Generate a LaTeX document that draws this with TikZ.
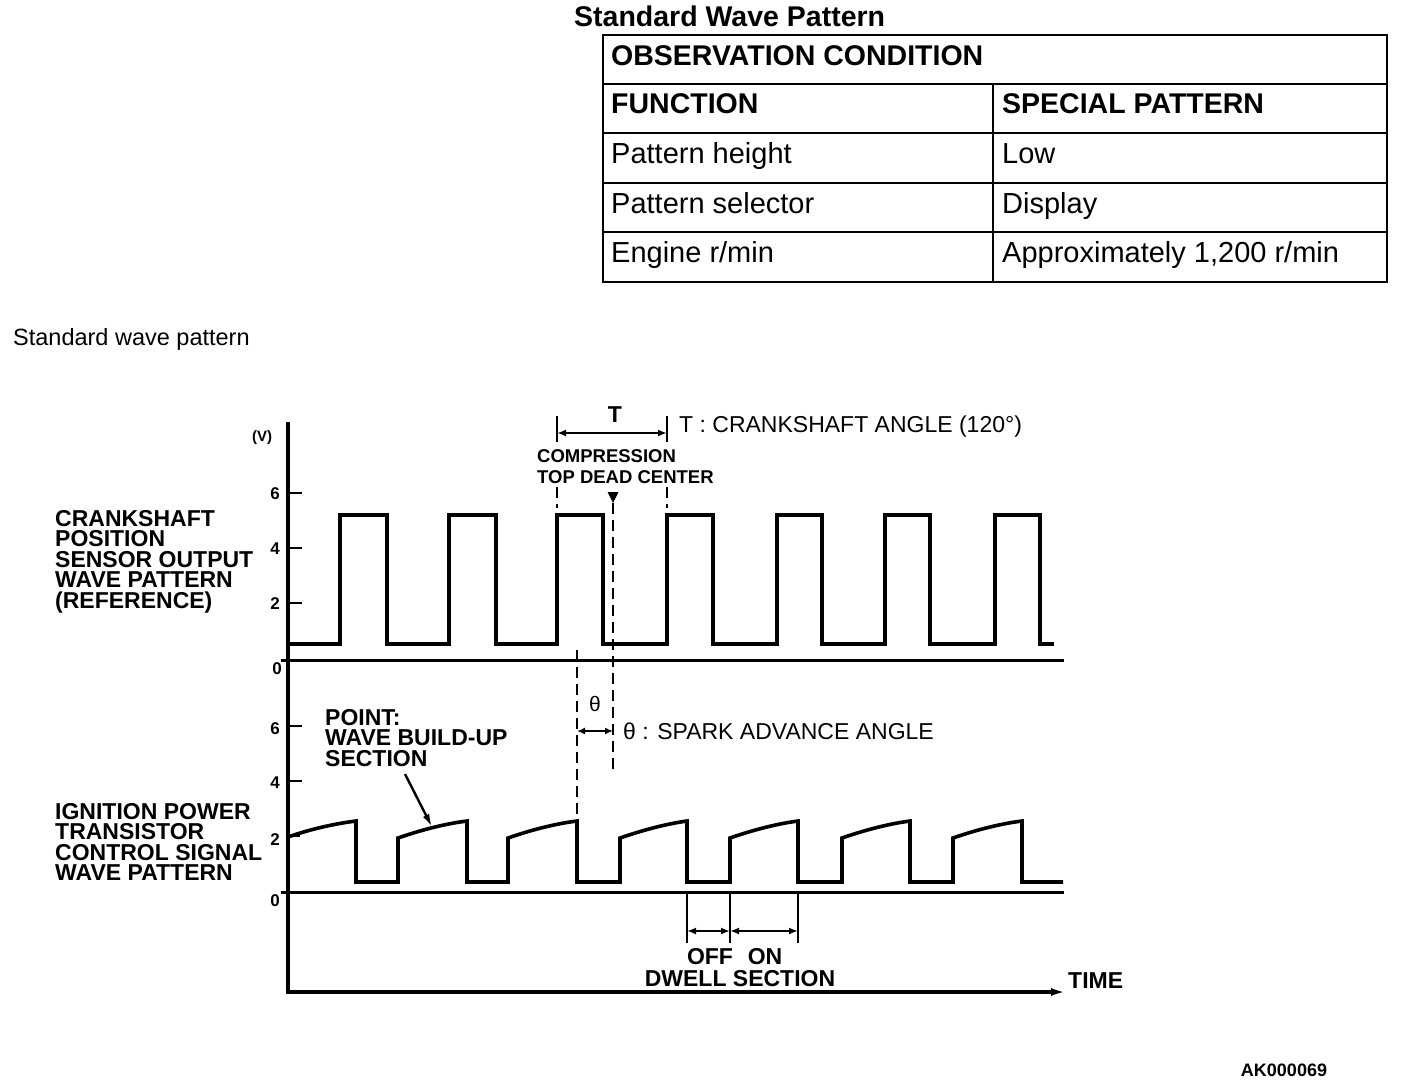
\documentclass[tikz,border=0pt]{standalone}
\usepackage{fontspec}
\setmainfont{Liberation Sans}
\usetikzlibrary{arrows.meta}
\begin{document}
\begin{tikzpicture}[x=1pt,y=-1pt,
  wave/.style={line width=3.6pt, line join=miter},
  axisln/.style={line width=3.2pt},
  baseln/.style={line width=3pt},
  tickln/.style={line width=2.8pt},
  dashln/.style={line width=2.6pt, dash pattern=on 11pt off 6pt},
  dimln/.style={line width=2.2pt, {Latex[length=9pt,width=7pt]}-{Latex[length=9pt,width=7pt]}},
  gridln/.style={line width=1.8pt},
  lbl/.style={font=\fontsize{23}{20.5}\selectfont\bfseries, align=left, inner sep=0pt, anchor=north west},
  ticklbl/.style={font=\fontsize{17}{20}\selectfont\bfseries, inner sep=0pt, anchor=base},
  txt/.style={inner sep=0pt, anchor=base west},
]
\useasboundingbox (0,0) rectangle (1408,1088);

% ---------- table ----------
\node[txt, font=\fontsize{28.5}{34}\selectfont\bfseries] (title) at (574,26) {Standard Wave Pattern};
\draw[gridln] (603,35) rectangle (1387,282);
\draw[gridln] (603,84) -- (1387,84);
\draw[gridln] (603,133) -- (1387,133);
\draw[gridln] (603,183) -- (1387,183);
\draw[gridln] (603,232) -- (1387,232);
\draw[gridln] (993,84) -- (993,282);
\node[txt, font=\fontsize{28.5}{34}\selectfont\bfseries] (obs) at (611,65) {OBSERVATION CONDITION};
\node[txt, font=\fontsize{28.5}{34}\selectfont\bfseries] (func) at (611,113) {FUNCTION};
\node[txt, font=\fontsize{28.5}{34}\selectfont\bfseries] (spec) at (1002,113) {SPECIAL PATTERN};
\node[txt, font=\fontsize{29}{34}\selectfont] (ph) at (611,163) {Pattern height};
\node[txt, font=\fontsize{29}{34}\selectfont] (low) at (1002,163) {Low};
\node[txt, font=\fontsize{29}{34}\selectfont] (ps) at (611,213) {Pattern selector};
\node[txt, font=\fontsize{29}{34}\selectfont] (disp) at (1002,213) {Display};
\node[txt, font=\fontsize{29}{34}\selectfont] (er) at (611,262) {Engine r/min};
\node[txt, font=\fontsize{29}{34}\selectfont] (appr) at (1002,262) {Approximately 1,200 r/min};

\node[txt, font=\fontsize{23.5}{28}\selectfont] (swp) at (13,345) {Standard wave pattern};

% ---------- axes ----------
\coordinate (axTop) at (288,422);
\coordinate (axCorner) at (288,992);
\coordinate (axEnd) at (1066,992);
\draw[axisln, -{Latex[length=15pt,width=8pt]}] (axTop) -- (axCorner) -- (axEnd);
\node[txt, font=\fontsize{23}{28}\selectfont\bfseries] (time) at (1068,988) {TIME};

\draw[baseln] (281,660) -- (1064,660);
\draw[baseln] (281,892) -- (1064,892);

% ticks upper
\draw[tickln] (288,493) -- (302,493);
\draw[tickln] (288,548) -- (302,548);
\draw[tickln] (288,603) -- (302,603);
% ticks lower
\draw[tickln] (288,726) -- (302,726);
\draw[tickln] (288,781) -- (302,781);
\draw[tickln] (288,836) -- (300,836);

\node[ticklbl, font=\fontsize{15}{18}\selectfont\bfseries] (v) at (262,441) {(V)};
\node[ticklbl] (u6) at (275,499) {6};
\node[ticklbl] (u4) at (275,554) {4};
\node[ticklbl] (u2) at (275,609) {2};
\node[ticklbl] (u0) at (277,674) {0};
\node[ticklbl] (l6) at (275,734) {6};
\node[ticklbl] (l4) at (275,788) {4};
\node[ticklbl] (l2) at (275,845) {2};
\node[ticklbl] (l0) at (275,906) {0};

% ---------- upper waveform ----------
\draw[wave] (288,644)
  foreach \r/\f in {340/387, 449/496, 557/603, 667/713, 777/822, 885/930, 995/1040} {
    -- (\r,644) -- (\r,515) -- (\f,515) -- (\f,644) }
  -- (1054,644);

% ---------- lower waveform ----------
\draw[wave] (288,837) .. controls (308,830) and (332,824) .. (356,821) -- (356,882)
  foreach \r/\f in {398/467, 508/577, 620/687, 730/798, 842/910, 953/1022} {
    -- (\r,882) -- (\r,838) .. controls ({\r+20},831) and ({\r+45},824) .. (\f,821) -- (\f,882) }
  -- (1063,882);

% ---------- left labels ----------
\node[lbl] (ckp) at (55,509.8) {CRANKSHAFT\\POSITION\\SENSOR OUTPUT\\WAVE PATTERN\\(REFERENCE)};
\node[lbl] (ipt) at (55,802.8) {IGNITION POWER\\TRANSISTOR\\CONTROL SIGNAL\\WAVE PATTERN};

% ---------- T bracket ----------
\coordinate (tL) at (557,433);
\coordinate (tR) at (667,433);
\draw[tickln] (557,416) -- (557,442);
\draw[tickln] (667,416) -- (667,442);
\draw[dimln] (tL) -- (tR);
\node[font=\fontsize{23}{28}\selectfont\bfseries, inner sep=0pt, anchor=base] (tlab) at (615,422) {T};
\node[txt, font=\fontsize{23}{28}\selectfont] (tdef) at (679,432) {T : CRANKSHAFT ANGLE (120°)};
\node[font=\fontsize{18.5}{21}\selectfont\bfseries, align=left, inner sep=0pt, anchor=north west] (ctdc) at (537,449.4) {COMPRESSION\\TOP DEAD CENTER};
\draw[dashln] (557,487) -- (557,508);
\draw[dashln] (667,487) -- (667,508);

% TDC marker
\fill (607.5,492) -- (618.5,492) -- (613,503) -- cycle;
\coordinate (tdcTop) at (613,503);
\coordinate (tdcBot) at (613,774);
\draw[dashln] (tdcTop) -- (tdcBot);

% spark line
\coordinate (spTop) at (577,650);
\coordinate (spBot) at (577,820);
\draw[dashln] (spTop) -- (spBot);

% theta
\coordinate (thL) at (577,731);
\coordinate (thR) at (613,731);
\draw[line width=2.2pt, {Latex[length=8pt,width=7pt]}-{Latex[length=8pt,width=7pt]}] (thL) -- (thR);
\node[font=\fontsize{21}{24}\selectfont, inner sep=0pt, anchor=base] (thlab) at (595,711) {θ};
\node[txt, font=\fontsize{23}{28}\selectfont] (thdef) at (623,739) {θ : SPARK ADVANCE ANGLE};

% point label
\node[lbl] (pt) at (325,708.8) {POINT:\\WAVE BUILD-UP\\SECTION};
\coordinate (ptFrom) at (405,774);
\coordinate (ptTo) at (432,827);
\draw[line width=2.4pt, -{Latex[length=13pt,width=7pt]}] (ptFrom) -- (ptTo);

% ---------- dwell ----------
\draw[tickln] (687,892) -- (687,943);
\draw[tickln] (730,892) -- (730,943);
\draw[tickln] (798,892) -- (798,943);
\coordinate (dA) at (687,931);
\coordinate (dB) at (730,931);
\coordinate (dC) at (798,931);
\draw[dimln] (dA) -- (dB);
\draw[dimln] (dB) -- (dC);
\node[font=\fontsize{23}{28}\selectfont\bfseries, inner sep=0pt, anchor=base] (off) at (710,964) {OFF};
\node[font=\fontsize{23}{28}\selectfont\bfseries, inner sep=0pt, anchor=base] (on) at (765,964) {ON};
\node[font=\fontsize{23}{28}\selectfont\bfseries, inner sep=0pt, anchor=base] (dwell) at (740,986) {DWELL SECTION};

\node[font=\fontsize{18}{22}\selectfont\bfseries, inner sep=0pt, anchor=base] (ak) at (1284,1076.5) {AK000069};
\end{tikzpicture}
\end{document}
